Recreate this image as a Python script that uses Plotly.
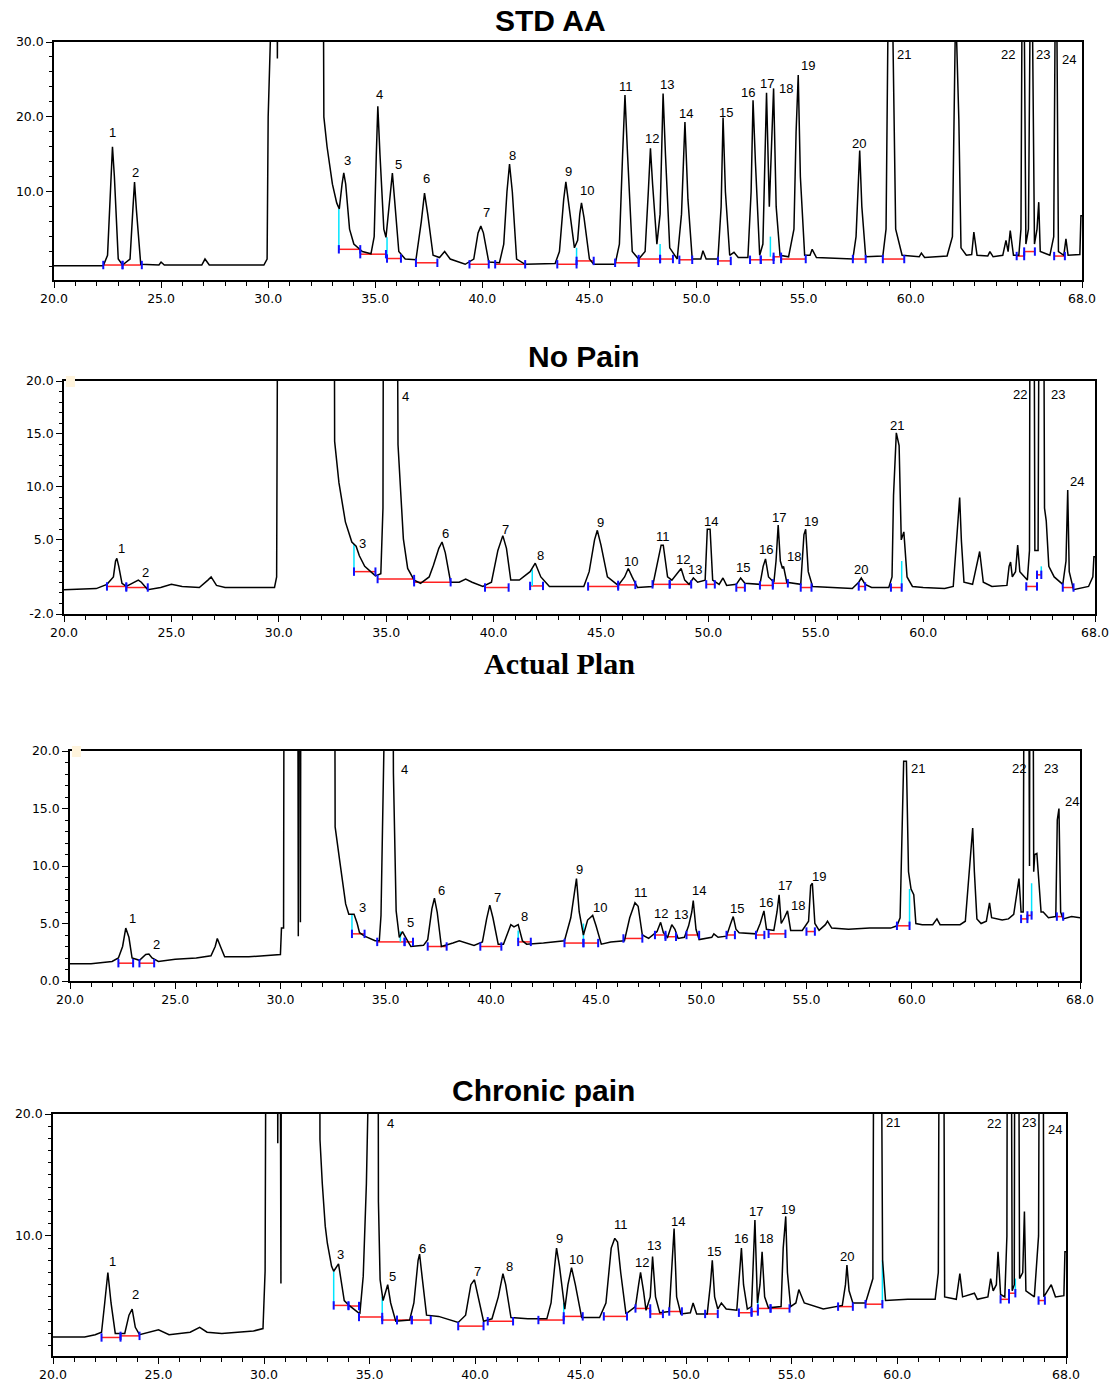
import plotly.graph_objects as go

# ---------------- DATA (retention time in min, detector signal) ----------------
# Panel 1: STD AA
STD_T = [20.0, 22.3, 22.5, 22.65, 22.73, 22.82, 23.0, 23.2, 23.55, 23.68, 23.76, 23.85, 24.05, 24.9, 25.0, 25.15,
         26.9, 27.05, 27.25, 29.8, 29.95, 30.0, 30.05, 30.4, 30.43, 30.47, 32.55, 32.6, 32.75, 33.0, 33.2, 33.32,
         33.45, 33.53, 33.62, 33.8, 34.0, 34.4, 34.8, 34.95, 35.05, 35.12, 35.22, 35.4, 35.5, 35.65, 35.8, 35.9,
         36.1, 36.4, 36.9, 37.15, 37.3, 37.45, 37.7, 38.0, 38.24, 38.5, 39.2, 39.6, 39.8, 39.93, 40.05, 40.3,
         40.8, 41.0, 41.15, 41.27, 41.4, 41.6, 42.0, 43.4, 43.6, 43.8, 43.9, 44.05, 44.3, 44.45, 44.55, 44.63,
         44.75, 45.0, 45.2, 46.2, 46.4, 46.55, 46.66, 46.78, 47.0, 47.3, 47.6, 47.75, 47.85, 47.95, 48.15, 48.3,
         48.4, 48.44, 48.55, 48.75, 49.1, 49.3, 49.46, 49.6, 49.8, 50.2, 50.3, 50.45, 51.0, 51.15, 51.24, 51.35,
         51.55, 51.75, 51.95, 52.4, 52.55, 52.64, 52.75, 52.95, 53.1, 53.2, 53.27, 53.4, 53.5, 53.6, 53.72, 53.9,
         54.3, 54.55, 54.65, 54.75, 54.85, 55.05, 55.3, 55.4, 55.6, 57.3, 57.45, 57.55, 57.62, 57.72, 57.9, 58.7,
         58.85, 58.95, 59.15, 59.3, 59.6, 60.4, 60.5, 60.65, 61.7, 61.95, 62.1, 62.25, 62.35, 62.6, 62.85, 62.95,
         63.1, 63.6, 63.7, 63.85, 64.3, 64.45, 64.55, 64.65, 64.8, 65.05, 65.15, 65.2, 65.3, 65.38, 65.5, 65.58,
         65.68, 65.78, 65.9, 65.98, 66.05, 66.5, 66.68, 66.75, 66.82, 66.9, 67.15, 67.25, 67.35, 67.9, 67.95, 68.0]
STD_Y = [0.1, 0.1, 1.5, 12.5, 16.0, 12.0, 1.0, 0.2, 1.0, 7.5, 11.3, 7.5, 0.3, 0.2, 0.6, 0.2,
         0.2, 1.0, 0.2, 0.2, 1.0, 20.0, 60.0, 60.0, 27.8, 60.0, 60.0, 20.0, 16.0, 11.0, 8.5, 7.7,
         11.0, 12.5, 11.0, 5.0, 3.0, 2.0, 1.7, 4.0, 15.0, 21.4, 15.0, 5.0, 3.9, 8.0, 12.5, 9.0,
         2.0, 1.0, 0.9, 6.0, 9.8, 7.0, 1.5, 1.2, 2.0, 1.0, 0.3, 1.0, 4.5, 5.4, 4.5, 0.6,
         0.5, 3.0, 10.0, 13.7, 10.0, 1.0, 0.3, 0.4, 2.0, 9.0, 11.3, 8.0, 2.5, 3.5, 7.0, 8.5,
         6.5, 1.0, 0.3, 0.3, 3.0, 15.0, 22.9, 15.0, 2.0, 1.0, 2.0, 10.0, 15.8, 11.0, 3.0, 7.0,
         20.0, 23.1, 15.0, 2.5, 1.0, 7.0, 19.3, 9.0, 1.0, 1.0, 2.1, 1.0, 1.0, 8.0, 19.9, 10.0,
         1.5, 1.9, 1.2, 1.2, 10.0, 22.2, 14.0, 1.5, 3.0, 15.0, 23.2, 8.0, 15.0, 23.8, 8.0, 1.5,
         1.3, 5.0, 18.0, 25.6, 12.0, 1.5, 1.5, 2.3, 1.2, 1.0, 4.0, 12.0, 15.5, 8.0, 1.3, 1.4,
         5.0, 35.0, 35.0, 5.0, 1.5, 1.3, 1.8, 1.2, 1.4, 4.0, 35.0, 19.6, 2.5, 1.5, 1.6, 4.6,
         1.5, 1.4, 2.0, 1.3, 1.5, 3.5, 2.0, 4.8, 1.5, 1.5, 5.0, 35.0, 35.0, 3.0, 5.0, 35.0,
         35.0, 3.0, 5.0, 8.6, 2.0, 1.5, 4.0, 35.0, 35.0, 2.0, 1.5, 3.7, 1.5, 1.6, 6.8, 6.8]
STD_LABELS = ["1", "2", "3", "4", "5", "6", "7", "8", "9", "10", "11", "12", "13", "14", "15", "16", "17", "18",
              "19", "20", "21", "22", "23", "24"]
STD_LX = [22.75, 23.8, 33.7, 35.2, 36.1, 37.4, 40.2, 41.4, 44.0, 44.9, 46.7, 47.9, 48.6, 49.5, 51.4, 52.4,
          53.3, 54.2, 55.2, 57.6, 59.7, 64.55, 66.2, 67.4]
STD_LY = [17.9, 12.6, 14.2, 23.0, 13.6, 11.8, 7.2, 14.8, 12.7, 10.1, 24.1, 17.1, 24.3, 20.4, 20.6, 23.3,
          24.5, 23.8, 26.9, 16.5, 28.3, 28.3, 28.3, 27.6]
STD_B0 = [22.3, 23.2, 33.3, 34.3, 35.55, 36.9, 39.4, 40.6, 43.5, 44.4, 46.2, 47.3, 48.3, 49.2, 51.0, 52.5, 53.0,
          53.6, 53.95, 57.3, 58.7, 64.95, 65.3, 66.7]
STD_B1 = [23.2, 24.1, 34.3, 35.5, 36.2, 37.9, 40.3, 42.0, 44.4, 45.2, 47.3, 48.3, 48.9, 49.8, 51.6, 53.0, 53.6,
          53.95, 55.1, 57.9, 59.7, 65.3, 65.8, 67.2]
STD_BY = [0.2, 0.2, 2.3, 1.65, 1.07, 0.5, 0.3, 0.3, 0.3, 0.75, 0.5, 1.0, 1.0, 0.9, 0.75, 0.9, 0.9,
          1.3, 1.0, 1.0, 1.0, 1.4, 2.0, 1.4]
STD_DX = [33.3, 35.55, 44.4, 48.3, 53.45]
STD_DY0 = [2.3, 1.07, 0.75, 1.0, 1.3]
STD_DY1 = [7.7, 3.9, 2.5, 3.0, 4.0]

# Panel 2: No Pain
NP_T = [20.0, 21.5, 22.0, 22.3, 22.4, 22.46, 22.55, 22.7, 22.9, 23.3, 23.46, 23.6, 23.9, 24.5, 25.0, 25.5,
        26.3, 26.7, 26.85, 27.1, 27.5, 29.8, 29.9, 30.0, 32.55, 32.6, 32.8, 33.1, 33.4, 33.6, 33.75, 34.0,
        34.5, 34.75, 34.85, 34.9, 35.45, 35.55, 35.8, 36.0, 36.3, 36.6, 37.0, 37.2, 37.45, 37.6, 37.75, 38.0,
        38.4, 38.7, 39.0, 39.5, 39.9, 40.2, 40.43, 40.6, 40.8, 41.2, 41.7, 41.94, 42.2, 42.6, 44.2, 44.45,
        44.7, 44.83, 45.0, 45.3, 45.8, 46.1, 46.27, 46.45, 46.7, 47.4, 47.65, 47.8, 47.9, 48.1, 48.3, 48.6,
        48.73, 48.9, 49.1, 49.3, 49.5, 49.85, 49.95, 50.08, 50.2, 50.5, 50.68, 50.85, 51.3, 51.5, 51.7, 52.4,
        52.55, 52.66, 52.8, 53.05, 53.15, 53.25, 53.35, 53.45, 53.5, 53.65, 54.3, 54.45, 54.53, 54.65, 54.85, 56.7,
        57.0, 57.12, 57.3, 57.6, 58.4, 58.55, 58.62, 58.75, 58.88, 58.98, 59.1, 59.25, 59.5, 60.0, 61.0, 61.4,
        61.55, 61.7, 61.78, 61.9, 62.3, 62.5, 62.63, 62.8, 63.2, 63.9, 64.0, 64.07, 64.15, 64.3, 64.4, 64.5,
        64.85, 64.95, 65.0, 65.12, 65.2, 65.35, 65.45, 65.56, 65.65, 65.73, 65.85, 66.1, 66.5, 66.65, 66.73, 66.8,
        67.0, 67.7, 67.9, 67.95, 68.0]
NP_Y = [0.3, 0.4, 0.8, 1.5, 3.0, 3.25, 2.5, 0.9, 0.6, 1.0, 1.2, 1.0, 0.3, 0.5, 0.8, 0.6,
        0.5, 1.2, 1.5, 0.7, 0.5, 0.5, 1.5, 60.0, 60.0, 14.3, 10.4, 6.7, 4.8, 4.4, 3.5, 2.5,
        1.6, 1.8, 8.0, 60.0, 60.0, 14.0, 5.1, 2.3, 1.2, 0.9, 1.5, 2.6, 4.2, 4.8, 3.8, 1.0,
        1.0, 1.3, 1.0, 0.6, 1.0, 4.0, 5.4, 4.2, 1.2, 1.2, 2.0, 2.8, 1.5, 0.6, 0.6, 2.0,
        5.0, 5.9, 4.5, 1.5, 0.7, 1.5, 2.3, 1.5, 0.5, 0.6, 3.0, 4.5, 4.5, 1.5, 1.2, 2.0,
        2.3, 1.2, 0.8, 1.4, 1.0, 1.2, 6.0, 6.0, 1.2, 0.8, 1.4, 0.7, 0.8, 1.4, 0.9, 0.8,
        2.5, 3.2, 1.5, 1.0, 3.0, 6.4, 3.0, 2.3, 2.5, 1.0, 0.8, 5.5, 6.0, 2.0, 0.6, 0.4,
        1.0, 1.4, 0.8, 0.5, 0.5, 1.5, 9.2, 15.1, 13.9, 5.0, 5.75, 1.5, 0.6, 0.5, 0.4, 0.6,
        4.5, 9.0, 4.9, 1.0, 0.8, 2.5, 3.9, 1.0, 0.6, 0.7, 2.5, 2.9, 1.5, 2.0, 4.5, 2.0,
        1.2, 4.0, 60.0, 60.0, 4.0, 4.0, 60.0, 60.0, 8.0, 6.8, 2.5, 1.5, 0.8, 3.0, 9.7, 2.0,
        0.3, 0.6, 1.5, 3.4, 3.4]
NP_LABELS = ["1", "2", "3", "4", "6", "7", "8", "9", "10", "11", "12", "13", "14", "15", "16", "17", "18", "19",
             "20", "21", "22", "23", "24"]
NP_LX = [22.7, 23.8, 33.9, 35.9, 37.75, 40.55, 42.2, 45.0, 46.4, 47.9, 48.8, 49.4, 50.1, 51.6, 52.7, 53.3,
         54.0, 54.8, 57.1, 58.8, 64.5, 66.3, 67.15]
NP_LY = [4.2, 1.9, 4.7, 18.5, 5.6, 6.0, 3.5, 6.6, 3.0, 5.3, 3.1, 2.2, 6.7, 2.4, 4.1, 7.1,
         3.4, 6.7, 2.2, 15.8, 18.7, 18.7, 10.5]
NP_B0 = [22.0, 22.9, 33.5, 34.6, 36.3, 39.6, 41.7, 44.4, 45.8, 47.4, 48.2, 49.9, 51.3, 52.4, 53.0, 54.3, 57.0,
         58.5, 64.8, 65.3, 66.5]
NP_B1 = [22.9, 23.9, 34.5, 36.3, 38.0, 40.7, 42.3, 45.8, 46.6, 48.2, 49.2, 50.3, 51.7, 53.0, 53.7, 54.8, 57.3,
         59.0, 65.3, 65.5, 67.0]
NP_BY = [0.6, 0.5, 2.0, 1.3, 1.0, 0.5, 0.65, 0.6, 0.75, 0.8, 0.8, 0.8, 0.5, 0.7, 0.9, 0.5, 0.6,
         0.5, 0.6, 1.7, 0.5]
NP_DX = [33.5, 41.8, 59.0, 65.5]
NP_DY0 = [2.0, 0.65, 0.5, 1.7]
NP_DY1 = [4.6, 2.2, 3.0, 2.5]

# Panel 3: Actual Plan
AP_T = [20.0, 21.0, 22.0, 22.3, 22.5, 22.65, 22.8, 22.95, 23.3, 23.6, 23.75, 23.9, 24.2, 25.0, 26.0, 26.7,
        26.9, 27.0, 27.15, 27.35, 28.5, 29.5, 30.0, 30.05, 30.15, 30.2, 30.8, 30.85, 30.9, 30.95, 31.0, 32.55,
        32.6, 32.83, 32.97, 33.1, 33.25, 33.5, 33.65, 33.76, 34.0, 34.5, 34.7, 34.78, 34.85, 34.9, 35.3, 35.37,
        35.5, 35.65, 35.8, 35.95, 36.2, 36.8, 37.0, 37.2, 37.32, 37.45, 37.65, 38.2, 38.5, 39.2, 39.6, 39.8,
        39.95, 40.1, 40.35, 40.6, 40.8, 40.95, 41.1, 41.3, 41.5, 41.7, 42.5, 43.0, 43.5, 43.8, 44.0, 44.07,
        44.2, 44.4, 44.6, 44.84, 45.0, 45.25, 45.7, 46.35, 46.6, 46.85, 47.0, 47.2, 47.5, 47.9, 48.07, 48.2,
        48.4, 48.6, 48.75, 48.9, 49.2, 49.4, 49.55, 49.62, 49.75, 49.9, 50.5, 50.6, 50.8, 51.2, 51.4, 51.52,
        51.65, 51.8, 52.6, 52.8, 52.98, 53.1, 53.45, 53.6, 53.7, 53.8, 53.95, 54.1, 54.25, 54.8, 55.1, 55.2,
        55.28, 55.4, 55.6, 55.9, 56.0, 56.2, 57.0, 58.0, 59.0, 59.3, 59.45, 59.55, 59.62, 59.75, 59.85, 59.97,
        60.1, 60.2, 60.5, 61.0, 61.2, 61.35, 62.3, 62.55, 62.75, 62.9, 62.98, 63.1, 63.3, 63.55, 63.7, 63.8,
        64.3, 64.6, 64.85, 65.1, 65.2, 65.3, 65.4, 65.5, 65.6, 65.65, 65.72, 65.8, 65.85, 65.95, 66.15, 66.25,
        66.5, 66.85, 66.92, 67.0, 67.08, 67.2, 67.6, 68.0]
AP_Y = [1.5, 1.5, 1.7, 2.0, 3.0, 4.6, 3.8, 2.0, 1.8, 2.3, 2.35, 2.0, 1.7, 1.9, 2.0, 2.2,
        3.0, 3.7, 3.0, 2.1, 2.1, 2.2, 2.3, 4.6, 4.6, 60.0, 60.0, 3.9, 60.0, 5.1, 60.0, 60.0,
        13.4, 10.3, 8.4, 6.7, 5.8, 5.8, 5.0, 4.2, 3.9, 3.5, 3.5, 5.7, 13.1, 60.0, 60.0, 18.1,
        6.1, 3.8, 4.3, 3.8, 3.0, 3.1, 3.6, 6.3, 7.2, 6.0, 3.0, 3.3, 3.5, 3.1, 3.4, 5.4,
        6.6, 5.5, 3.2, 3.2, 4.2, 4.9, 4.7, 4.9, 3.5, 3.2, 3.3, 3.4, 3.5, 5.5, 8.3, 8.9,
        6.0, 4.0, 5.3, 5.7, 4.8, 3.2, 3.4, 3.5, 5.5, 6.8, 6.5, 4.0, 3.7, 4.3, 5.1, 4.2,
        3.8, 4.9, 4.5, 3.7, 3.8, 4.8, 6.0, 7.0, 4.5, 3.6, 3.8, 4.1, 3.8, 3.9, 5.0, 5.6,
        4.5, 4.2, 4.1, 5.0, 6.1, 4.5, 4.4, 6.0, 7.5, 5.0, 5.5, 6.1, 4.4, 4.4, 5.2, 8.3,
        8.5, 5.0, 4.4, 4.9, 5.2, 4.6, 4.5, 4.6, 4.6, 4.8, 5.5, 12.7, 19.1, 19.1, 9.5, 8.0,
        7.5, 5.0, 4.9, 4.9, 5.4, 4.9, 4.9, 5.2, 9.6, 13.3, 9.5, 5.4, 5.0, 5.2, 6.8, 5.5,
        5.3, 5.4, 5.8, 8.9, 6.0, 6.0, 60.0, 60.0, 10.0, 60.0, 60.0, 9.5, 11.0, 11.1, 6.0, 6.0,
        5.5, 5.6, 14.0, 15.0, 6.0, 5.4, 5.6, 5.5]
AP_LABELS = ["1", "2", "3", "4", "5", "6", "7", "8", "9", "10", "11", "12", "13", "14", "15", "16", "17", "18",
             "19", "21", "22", "23", "24"]
AP_LX = [22.95, 24.1, 33.9, 35.9, 36.2, 37.65, 40.3, 41.6, 44.2, 45.2, 47.15, 48.1, 49.05, 49.9, 51.7, 53.1,
         54.0, 54.6, 55.6, 60.3, 65.1, 66.6, 67.6]
AP_LY = [5.4, 3.2, 6.4, 18.4, 5.1, 7.9, 7.3, 5.6, 9.7, 6.4, 7.7, 5.9, 5.8, 7.9, 6.3, 6.8,
         8.3, 6.6, 9.1, 18.5, 18.5, 18.5, 15.6]
AP_B0 = [22.3, 23.3, 33.4, 34.6, 35.9, 37.0, 39.5, 41.3, 43.5, 44.4, 46.3, 47.8, 48.3, 49.3, 51.2, 52.6, 53.2,
         55.0, 59.3, 65.2, 65.5, 66.9]
AP_B1 = [23.0, 24.0, 34.0, 35.9, 36.3, 37.9, 40.5, 41.9, 44.4, 45.1, 47.2, 48.3, 48.8, 49.9, 51.6, 53.0, 54.0,
         55.4, 59.9, 65.5, 65.7, 67.2]
AP_BY = [1.55, 1.55, 4.1, 3.4, 3.4, 3.0, 3.0, 3.4, 3.3, 3.3, 3.7, 4.0, 3.85, 4.0, 4.0, 4.0, 4.1,
         4.3, 4.8, 5.4, 5.7, 5.6]
AP_DX = [33.4, 35.7, 41.3, 44.4, 59.9, 65.7]
AP_DY0 = [4.1, 3.4, 3.4, 3.3, 4.8, 5.7]
AP_DY1 = [5.8, 4.3, 4.4, 5.0, 8.0, 8.5]

# Panel 4: Chronic pain
CP_T = [20.0, 21.5, 22.0, 22.3, 22.45, 22.6, 22.75, 22.95, 23.4, 23.6, 23.75, 23.9, 24.1, 25.0, 25.5, 26.5,
        26.95, 27.3, 28.0, 29.5, 29.95, 30.05, 30.15, 30.6, 30.65, 30.72, 30.8, 30.85, 32.6, 32.65, 32.76, 32.9,
        33.0, 33.2, 33.3, 33.53, 33.8, 34.03, 34.54, 34.7, 34.85, 34.9, 35.38, 35.42, 35.5, 35.64, 35.86, 36.0,
        36.24, 36.9, 37.1, 37.3, 37.37, 37.5, 37.7, 38.27, 38.6, 39.2, 39.55, 39.8, 39.97, 40.15, 40.4, 40.8,
        41.1, 41.32, 41.45, 41.7, 42.5, 43.4, 43.6, 43.8, 43.86, 44.0, 44.25, 44.4, 44.57, 44.75, 45.05, 45.9,
        46.2, 46.45, 46.62, 46.75, 46.9, 47.15, 47.6, 47.75, 47.84, 47.98, 48.1, 48.3, 48.41, 48.55, 48.75, 49.2,
        49.35, 49.43, 49.55, 49.75, 50.2, 50.33, 50.5, 51.0, 51.15, 51.24, 51.35, 51.5, 51.67, 51.9, 52.4, 52.55,
        52.62, 52.72, 52.9, 53.1, 53.2, 53.26, 53.38, 53.5, 53.6, 53.72, 53.9, 54.5, 54.6, 54.72, 54.8, 54.95,
        55.2, 55.34, 55.6, 56.5, 57.4, 57.55, 57.62, 57.72, 57.9, 58.5, 58.85, 58.95, 59.15, 59.31, 59.45, 60.5,
        61.8, 61.95, 62.05, 62.15, 62.25, 62.8, 62.97, 63.1, 63.66, 63.8, 64.3, 64.43, 64.55, 64.7, 64.78, 64.9,
        65.1, 65.2, 65.25, 65.35, 65.45, 65.55, 65.6, 65.7, 65.8, 65.95, 66.03, 66.1, 66.5, 66.7, 66.8, 66.88,
        66.95, 67.3, 67.5, 67.9, 67.95, 68.0]
CP_Y = [1.7, 1.7, 1.9, 2.1, 4.5, 7.0, 4.5, 2.0, 2.0, 3.5, 4.0, 2.5, 1.9, 2.3, 1.9, 2.1,
        2.5, 2.1, 2.0, 2.2, 2.4, 7.1, 60.0, 60.0, 17.6, 60.0, 6.1, 60.0, 60.0, 17.9, 14.3, 10.8,
        9.4, 7.5, 7.1, 7.7, 4.7, 4.3, 3.6, 6.7, 14.3, 60.0, 60.0, 12.8, 6.4, 4.7, 6.0, 4.5,
        3.0, 3.1, 4.5, 8.0, 8.5, 6.5, 3.5, 3.4, 3.2, 2.9, 3.5, 6.0, 6.4, 5.0, 3.0, 3.2,
        5.0, 6.9, 6.0, 3.3, 3.2, 3.2, 4.5, 8.0, 9.0, 7.5, 4.0, 6.0, 7.4, 6.0, 3.3, 3.3,
        4.5, 9.0, 9.8, 9.5, 7.0, 3.6, 4.2, 6.0, 7.0, 5.5, 3.9, 5.0, 8.3, 5.0, 3.7, 3.8,
        8.0, 10.6, 5.0, 3.6, 3.7, 4.5, 3.6, 3.6, 6.0, 8.0, 5.0, 4.0, 4.5, 4.0, 3.9, 7.5,
        9.0, 6.0, 4.0, 4.2, 9.0, 11.3, 4.5, 6.0, 8.7, 5.0, 4.1, 4.2, 9.0, 11.6, 7.0, 4.2,
        4.5, 5.6, 4.5, 4.0, 4.3, 6.0, 7.6, 5.5, 4.5, 4.5, 6.5, 60.0, 60.0, 8.0, 4.7, 4.8,
        4.8, 7.0, 60.0, 60.0, 5.0, 4.8, 6.9, 5.0, 5.3, 4.8, 5.0, 6.5, 5.5, 6.0, 8.7, 5.2,
        5.0, 10.0, 60.0, 60.0, 5.5, 6.0, 60.0, 60.0, 6.5, 7.0, 12.0, 5.5, 5.0, 10.0, 60.0, 60.0,
        5.0, 6.0, 5.0, 5.1, 8.7, 8.7]
CP_LABELS = ["1", "2", "3", "4", "5", "6", "7", "8", "9", "10", "11", "12", "13", "14", "15", "16", "17", "18",
             "19", "20", "21", "22", "23", "24"]
CP_LX = [22.8, 23.9, 33.6, 36.0, 36.1, 37.5, 40.1, 41.65, 44.0, 44.8, 46.9, 47.9, 48.5, 49.6, 51.3, 52.6,
         53.3, 53.8, 54.85, 57.6, 59.8, 64.6, 66.25, 67.5]
CP_LY = [7.9, 5.2, 8.5, 19.2, 6.7, 9.0, 7.1, 7.5, 9.8, 8.1, 10.9, 7.8, 9.2, 11.2, 8.7, 9.8,
         12.0, 9.8, 12.2, 8.3, 19.3, 19.2, 19.3, 18.7]
CP_B0 = [22.3, 23.2, 33.3, 34.0, 34.5, 35.6, 36.3, 37.0, 39.2, 40.6, 43.0, 44.2, 46.1, 47.6, 48.3, 49.2, 50.9,
         52.5, 53.1, 53.4, 54.0, 57.2, 58.5, 64.9, 65.3, 66.7]
CP_B1 = [23.2, 24.1, 34.0, 34.5, 35.6, 36.3, 37.0, 37.9, 40.4, 41.8, 44.2, 45.1, 47.2, 48.3, 48.9, 49.8, 51.5,
         53.1, 53.4, 54.0, 54.9, 57.9, 59.3, 65.3, 65.6, 67.0]
CP_BY = [1.67, 1.8, 4.3, 4.25, 3.35, 3.1, 3.1, 3.1, 2.6, 3.0, 3.1, 3.4, 3.4, 4.05, 3.6, 3.8, 3.6,
         3.7, 3.8, 4.05, 4.05, 4.2, 4.4, 4.8, 5.3, 4.7]
CP_DX = [33.3, 35.6, 44.2, 53.4, 59.3, 65.6]
CP_DY0 = [4.3, 3.1, 3.4, 4.05, 4.4, 5.3]
CP_DY1 = [7.1, 5.0, 4.5, 5.2, 8.0, 6.5]

# Axis ticks
X_TICKS = [20, 25, 30, 35, 40, 45, 50, 55, 60, 68]
X_TICKTEXT = ["20.0", "25.0", "30.0", "35.0", "40.0", "45.0", "50.0", "55.0", "60.0", "68.0"]

# ---------------- FIGURE ----------------
W, H = 1110, 1382

panels = [
    dict(t=STD_T, y=STD_Y, lt=STD_LABELS, lx=STD_LX, ly=STD_LY, b0=STD_B0, b1=STD_B1, by=STD_BY,
         dx=STD_DX, dy0=STD_DY0, dy1=STD_DY1, box=(54, 1082, 42, 280), yr=[-1.8, 30],
         yt=[10, 20, 30], ytt=["10.0", "20.0", "30.0"], ymin=2),
    dict(t=NP_T, y=NP_Y, lt=NP_LABELS, lx=NP_LX, ly=NP_LY, b0=NP_B0, b1=NP_B1, by=NP_BY,
         dx=NP_DX, dy0=NP_DY0, dy1=NP_DY1, box=(64, 1095, 381, 614), yr=[-2, 20],
         yt=[-2, 5, 10, 15, 20], ytt=["-2.0", "5.0", "10.0", "15.0", "20.0"], ymin=1),
    dict(t=AP_T, y=AP_Y, lt=AP_LABELS, lx=AP_LX, ly=AP_LY, b0=AP_B0, b1=AP_B1, by=AP_BY,
         dx=AP_DX, dy0=AP_DY0, dy1=AP_DY1, box=(70, 1080, 751, 981), yr=[0, 20],
         yt=[0, 5, 10, 15, 20], ytt=["0.0", "5.0", "10.0", "15.0", "20.0"], ymin=1),
    dict(t=CP_T, y=CP_Y, lt=CP_LABELS, lx=CP_LX, ly=CP_LY, b0=CP_B0, b1=CP_B1, by=CP_BY,
         dx=CP_DX, dy0=CP_DY0, dy1=CP_DY1, box=(53, 1066, 1114, 1356), yr=[0.15, 20],
         yt=[10, 20], ytt=["10.0", "20.0"], ymin=1),
]

fig = go.Figure()
annotations = []
tickfont = dict(family="DejaVu Sans, Verdana, sans-serif", size=12.5, color="black")

for i, p in enumerate(panels, start=1):
    xa = "x" if i == 1 else f"x{i}"
    ya = "y" if i == 1 else f"y{i}"
    # integration baselines (red)
    bx, byy = [], []
    for a, b, c in zip(p["b0"], p["b1"], p["by"]):
        bx += [a, b, None]
        byy += [c, c, None]
    fig.add_trace(go.Scatter(x=bx, y=byy, mode="lines", line=dict(color="#ff2020", width=1.5),
                             xaxis=xa, yaxis=ya, showlegend=False, hoverinfo="skip"))
    # drop lines (cyan)
    dxx, dyy = [], []
    for a, c0, c1 in zip(p["dx"], p["dy0"], p["dy1"]):
        dxx += [a, a, None]
        dyy += [c0, c1, None]
    fig.add_trace(go.Scatter(x=dxx, y=dyy, mode="lines", line=dict(color="#00e5ff", width=1.5),
                             xaxis=xa, yaxis=ya, showlegend=False, hoverinfo="skip"))
    # chromatogram trace
    fig.add_trace(go.Scatter(x=p["t"], y=p["y"], mode="lines", line=dict(color="black", width=1.5),
                             xaxis=xa, yaxis=ya, showlegend=False))
    # peak start/end marks (blue)
    mx = list(p["b0"]) + list(p["b1"])
    my = list(p["by"]) + list(p["by"])
    fig.add_trace(go.Scatter(x=mx, y=my, mode="markers",
                             marker=dict(symbol="line-ns", size=6, line=dict(color="#1010ff", width=2)),
                             xaxis=xa, yaxis=ya, showlegend=False, hoverinfo="skip"))
    # peak labels
    for txt, lx, ly in zip(p["lt"], p["lx"], p["ly"]):
        annotations.append(dict(x=lx, y=ly, xref=xa, yref=ya, text=txt, showarrow=False,
                                font=dict(family="Liberation Sans, Arial, sans-serif", size=13, color="black"),
                                xanchor="center", yanchor="middle"))
    l, r, t, b = p["box"]
    axis_common = dict(showline=True, linecolor="black", linewidth=1.5, mirror=True, showgrid=False,
                       zeroline=False, ticks="outside", ticklen=6, tickwidth=1.2, tickcolor="black",
                       tickfont=tickfont, automargin=False)
    fig.update_layout(**{
        ("xaxis" if i == 1 else f"xaxis{i}"): dict(
            domain=[l / W, r / W], anchor=ya, range=[20, 68], tickmode="array",
            tickvals=X_TICKS, ticktext=X_TICKTEXT,
            minor=dict(dtick=1, tick0=20, ticks="outside", ticklen=4, tickcolor="black", showgrid=False),
            **axis_common),
        ("yaxis" if i == 1 else f"yaxis{i}"): dict(
            domain=[1 - b / H, 1 - t / H], anchor=xa, range=p["yr"], tickmode="array",
            tickvals=p["yt"], ticktext=p["ytt"],
            minor=dict(dtick=p["ymin"], tick0=0, ticks="outside", ticklen=3, tickcolor="black", showgrid=False),
            **axis_common),
    })

# panel titles
titles = [("STD AA", 550, 20, "Liberation Sans, Arial, sans-serif"),
          ("No Pain", 584, 357, "Liberation Sans, Arial, sans-serif"),
          ("Actual Plan", 559, 663, "Liberation Serif, Times New Roman, serif"),
          ("Chronic pain", 543, 1090, "Liberation Sans, Arial, sans-serif")]
for txt, px, py, fam in titles:
    annotations.append(dict(x=px / W, y=1 - py / H, xref="paper", yref="paper", text=f"<b>{txt}</b>",
                            showarrow=False, xanchor="center", yanchor="middle",
                            font=dict(family=fam, size=30, color="black")))

# small beige marks at the top-left corner of panels 2 and 3
shapes = []
for (l, top) in [(64, 381), (70, 751)]:
    shapes.append(dict(type="rect", xref="paper", yref="paper", x0=(l + 2) / W, x1=(l + 11) / W,
                       y0=1 - (top + 6) / H, y1=1 - (top - 5) / H, fillcolor="#fff4dc", line=dict(width=0),
                       layer="above"))

fig.update_layout(template="none", width=W, height=H,
                  margin=dict(l=0, r=0, t=0, b=0, pad=0, autoexpand=False),
                  paper_bgcolor="white", plot_bgcolor="white", annotations=annotations, shapes=shapes,
                  showlegend=False)

fig.write_html("out.html", config={"displayModeBar": False},
               post_script="document.body.style.margin='0px';document.body.style.overflow='hidden';")
